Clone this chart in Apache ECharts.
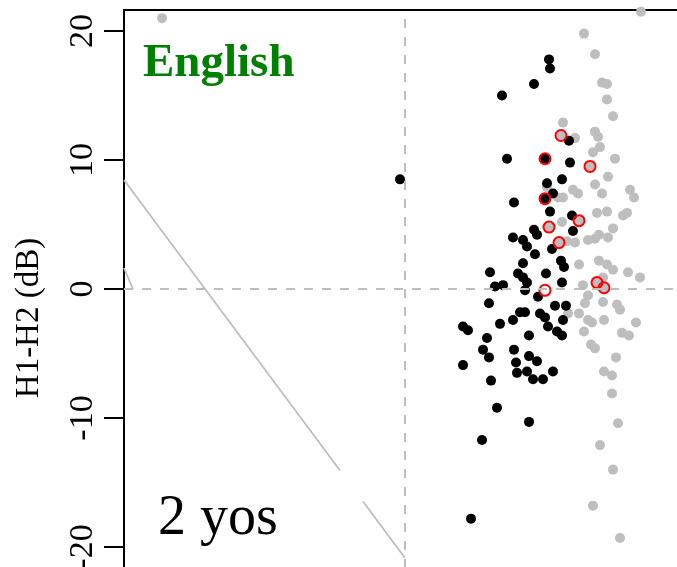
<!DOCTYPE html>
<html>
<head>
<meta charset="utf-8">
<script src="https://cdn.jsdelivr.net/npm/echarts@6/dist/echarts.min.js"></script>
<style>html,body{margin:0;padding:0;background:#fff;}#c{width:677px;height:567px;}</style>
</head>
<body>
<div id="c"></div>
<script>
// y ticks (dB)
const yTicks = [20, 10, 0, -10, -20];

// grey points [x, H1-H2 dB]
const greyPoints = [
[-24.3,21.0],[23.6,21.5],[17.9,19.8],[19.0,18.2],[19.7,16.0],[20.2,15.9],[20.2,14.7],[20.8,13.4],
[15.8,12.9],[15.6,11.9],[17.0,11.7],[19.0,12.2],[19.3,11.8],[19.5,11.0],[18.8,10.6],[21.0,10.1],
[18.5,9.5],[20.3,8.7],[14.2,7.9],[19.0,8.1],[16.8,7.7],[17.3,7.4],[22.5,7.7],[22.9,7.1],[19.7,7.4],
[15.8,7.1],[15.3,7.1],[19.2,5.9],[20.2,6.0],[21.8,5.7],[22.2,5.9],[17.4,5.3],[15.7,5.2],[14.4,4.8],
[20.8,4.7],[19.4,4.2],[20.3,4.0],[18.3,3.8],[19.0,3.9],[15.4,3.6],[16.2,3.7],[17.0,3.6],[19.4,2.2],
[20.2,1.9],[20.8,1.5],[17.4,1.9],[22.3,1.3],[23.5,0.9],[19.8,0.9],[17.8,0.3],[19.2,0.5],[19.9,0.1],
[18.3,-0.5],[18.0,-1.1],[19.8,-1.0],[21.2,-1.2],[21.5,-1.6],[16.3,-1.9],[17.4,-1.9],[18.3,-2.4],
[18.7,-2.6],[19.9,-2.4],[23.1,-2.6],[17.9,-3.3],[21.7,-3.4],[22.4,-3.6],[18.6,-4.3],[19.0,-4.6],
[21.1,-5.3],[19.9,-6.4],[20.7,-6.7],[20.7,-8.1],[21.3,-10.4],[19.5,-12.1],[20.8,-14.0],[18.8,-16.8],
[21.5,-19.3]
];

// black points [x, H1-H2 dB]
const blackPoints = [
[-0.5,8.5],[14.4,17.8],[14.5,17.1],[12.9,15.9],[9.7,15.0],[16.4,11.5],[10.2,10.1],[14.0,10.1],
[16.5,9.8],[15.7,8.5],[14.2,8.2],[14.8,7.4],[14.0,7.0],[10.9,6.7],[14.5,6.0],[16.7,5.7],[12.9,4.6],
[13.2,4.2],[16.8,4.5],[10.8,4.0],[11.8,3.8],[12.2,3.3],[13.0,2.7],[14.7,3.1],[15.6,2.2],[15.9,1.7],
[11.8,2.0],[8.5,1.3],[11.3,1.2],[11.8,0.9],[14.1,1.2],[9.0,0.2],[9.8,0.3],[12.2,0.5],[12.0,-0.1],
[15.7,0.5],[13.3,-0.6],[8.4,-1.1],[15.0,-1.3],[16.1,-1.3],[13.5,-1.9],[14.0,-2.2],[15.8,-2.4],
[14.3,-2.9],[15.2,-3.3],[15.7,-3.6],[11.5,-1.8],[12.0,-1.8],[10.8,-2.4],[9.5,-2.7],[5.8,-2.9],
[6.3,-3.2],[12.4,-3.6],[8.2,-3.8],[7.8,-4.7],[8.4,-5.3],[10.9,-4.7],[11.1,-5.7],[12.4,-5.2],
[13.2,-5.6],[5.8,-5.9],[11.2,-6.5],[12.2,-6.4],[12.8,-7.0],[13.8,-7.0],[14.8,-6.4],[8.6,-7.1],
[9.2,-9.2],[12.4,-10.3],[7.7,-11.7],[6.6,-17.8]
];

// red-circled points [x, H1-H2 dB]
const redPoints = [
[15.6,11.9],[14.0,10.1],[18.5,9.5],[14.0,7.0],[17.4,5.3],[14.4,4.8],[15.4,3.6],[19.2,0.5],[19.9,0.1],[14.0,-0.1]
];

// grey guide line segments
const diagSeg1 = [[-28.1,8.45],[-6.5,-14.07]];
const diagSeg2 = [[-4.2,-16.47],[0,-20.85]];
const shortSeg = [[-28.1,1.63],[-27.2,0]];

const serif = '"Liberation Serif", "Times New Roman", serif';
const chart = echarts.init(document.getElementById('c'), null, {renderer:'canvas'});
const segStyle = {color:'#BEBEBE', width:1.8};
const lineSeries = (d) => ({type:'line', data:d, showSymbol:false, symbol:'none', silent:true, lineStyle:segStyle, z:1, animation:false});

chart.setOption({
  animation:false,
  backgroundColor:'#ffffff',
  grid:{left:124, top:10, width:563, height:666, containLabel:false, outerBoundsMode:'none'},
  xAxis:{type:'value', min:-28.1, max:28.2, position:'top',
    axisLine:{show:true, onZero:false, lineStyle:{color:'#000', width:2}},
    axisTick:{show:false}, axisLabel:{show:false}, splitLine:{show:false}},
  yAxis:{type:'value', min:-30, max:21.63, interval:10,
    axisLine:{show:true, onZero:false, lineStyle:{color:'#000', width:2}},
    axisTick:{show:true, inside:false, length:20, lineStyle:{color:'#000', width:2}, customValues:yTicks},
    axisLabel:{show:true, rotate:90, margin:24, color:'#000', fontSize:34, fontFamily:serif, customValues:yTicks},
    splitLine:{show:false}},
  series:[
    lineSeries(diagSeg1), lineSeries(diagSeg2), lineSeries(shortSeg),
    {type:'scatter', data:greyPoints, symbol:'circle', symbolSize:10, itemStyle:{color:'#BEBEBE', opacity:1}, z:2,
      markLine:{silent:true, symbol:['none','none'], label:{show:false},
        lineStyle:{color:'#BEBEBE', width:2, type:[9,9]},
        data:[{yAxis:0},{xAxis:0}]}},
    {type:'scatter', data:blackPoints, symbol:'circle', symbolSize:10, itemStyle:{color:'#000000', opacity:1}, z:3},
    {type:'scatter', data:redPoints, symbol:'circle', symbolSize:11,
      itemStyle:{color:'rgba(0,0,0,0)', borderColor:'#FF0000', borderWidth:2, opacity:1}, z:4}
  ],
  graphic:[
    {type:'text', x:143, y:64, style:{text:'English', font:'bold 47px '+serif, fill:'#008000', textAlign:'left', textVerticalAlign:'middle'}},
    {type:'text', x:158, y:519, style:{text:'2 yos', font:'56px '+serif, fill:'#000', textAlign:'left', textVerticalAlign:'middle'}},
    {type:'text', x:29, y:318, rotation:Math.PI/2, style:{text:'H1-H2 (dB)', font:'33px '+serif, fill:'#000', textAlign:'center', textVerticalAlign:'middle'}}
  ]
});
</script>
</body>
</html>
